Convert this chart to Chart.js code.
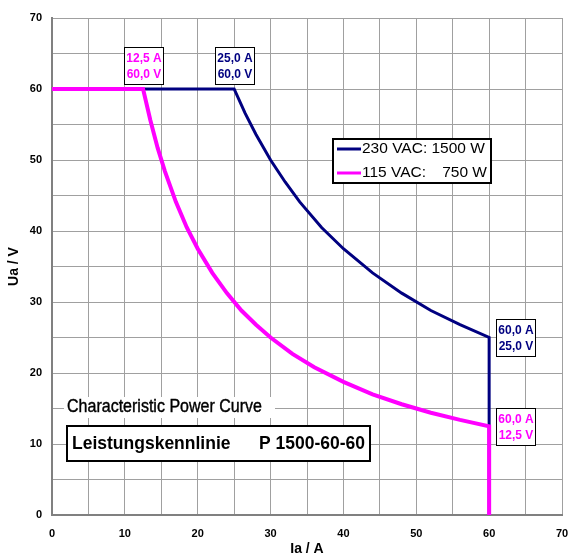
<!DOCTYPE html>
<html>
<head>
<meta charset="utf-8">
<script src="https://cdn.jsdelivr.net/npm/chart.js@4"></script>
<style>
  html, body { margin: 0; padding: 0; background: #fff; }
  #wrap { width: 569px; height: 558px; }
</style>
</head>
<body>
<div id="wrap"><canvas id="powerCurve" width="569" height="558"></canvas></div>
<script>
// ================= Data =================
const current115 = [0, 12.5, 13.5, 14.5, 15.5, 17, 18.5, 20, 22, 24, 26, 28, 30, 33, 36, 40, 44, 48, 52, 56, 60, 60];
const voltage115 = [60, 60, 55.6, 51.7, 48.4, 44.1, 40.5, 37.5, 34.1, 31.25, 28.8, 26.8, 25, 22.7, 20.8, 18.75, 17.0, 15.6, 14.4, 13.4, 12.5, 0];

const current230 = [0, 25, 26.5, 28, 30, 32, 34, 37, 40, 44, 48, 52, 56, 60, 60];
const voltage230 = [60, 60, 56.6, 53.6, 50, 46.9, 44.1, 40.5, 37.5, 34.1, 31.25, 28.8, 26.8, 25, 0];

const seriesLabels = ["230 VAC: 1500 W", "115 VAC:", "750 W"];
const xTicks = [0, 10, 20, 30, 40, 50, 60, 70];
const yTicks = [0, 10, 20, 30, 40, 50, 60, 70];

// corner labels: [current, voltage, text lines]
const markers115 = [[12.5, 60, ["12,5 A", "60,0 V"]], [60, 12.5, ["60,0 A", "12,5 V"]]];
const markers230 = [[25, 60, ["25,0 A", "60,0 V"]], [60, 25, ["60,0 A", "25,0 V"]]];

const NAVY = "#000080";
const PINK = "#ff00ff";
const FONT = "'Liberation Sans', Arial, sans-serif";

function toPoints(xs, ys) {
    return xs.map((x, i) => ({ x: x, y: ys[i] }));
}

// ================= Overlay plugin =================
const overlay = {
    id: "overlay",
    afterDatasetsDraw(chart) {
        const c = chart.ctx;
        const xs = chart.scales.x;
        const ys = chart.scales.y;

        function box(x, y, w, h, lw) {
            c.fillStyle = "#fff";
            c.fillRect(x, y, w, h);
            c.strokeStyle = "#000";
            c.lineWidth = lw;
            c.strokeRect(x, y, w, h);
        }

        function marker(m, color, place) {
            const px = xs.getPixelForValue(m[0]);
            const py = ys.getPixelForValue(m[1]);
            const w = 39, h = 37;
            let bx, by;
            if (place === "above") { bx = px - w / 2; by = py - 5 - h; }
            else { bx = px + 7; by = py - h / 2; }
            bx = Math.round(bx) + 0.5;
            by = Math.round(by) + 0.5;
            box(bx, by, w, h, 1);
            c.fillStyle = color;
            c.font = "bold 12px " + FONT;
            c.textAlign = "center";
            c.textBaseline = "middle";
            c.fillText(m[2][0], bx + w / 2, by + 11);
            c.fillText(m[2][1], bx + w / 2, by + 27);
        }

        c.save();
        marker(markers115[0], PINK, "above");
        marker(markers230[0], NAVY, "above");
        marker(markers230[1], NAVY, "right");
        marker(markers115[1], PINK, "right");

        // legend
        box(333, 139, 158, 44, 2);
        c.lineWidth = 3;
        c.strokeStyle = NAVY;
        c.beginPath(); c.moveTo(337, 149); c.lineTo(361, 149); c.stroke();
        c.strokeStyle = PINK;
        c.beginPath(); c.moveTo(337, 173); c.lineTo(361, 173); c.stroke();
        c.fillStyle = "#000";
        c.font = "15.5px " + FONT;
        c.textAlign = "left";
        c.textBaseline = "middle";
        c.fillText(seriesLabels[0], 362, 149);
        c.fillText(seriesLabels[1], 362, 173);
        c.textAlign = "right";
        c.fillText(seriesLabels[2], 487, 173);

        // titles
        c.fillStyle = "#fff";
        c.fillRect(64, 397, 211, 21);
        c.fillStyle = "#000";
        c.strokeStyle = "#000";
        c.lineWidth = 0.4;
        c.save();
        c.translate(67, 407);
        c.scale(0.89, 1);
        c.font = "18px " + FONT;
        c.textAlign = "left";
        c.fillText("Characteristic Power Curve", 0, 0);
        c.strokeText("Characteristic Power Curve", 0, 0);
        c.restore();

        box(67, 426, 303, 35, 2);
        c.fillStyle = "#000";
        c.font = "bold 17.5px " + FONT;
        c.textAlign = "left";
        c.fillText("Leistungskennlinie", 72, 444);
        c.textAlign = "right";
        c.fillText("P 1500-60-60", 365, 444);
        c.restore();
    }
};

// ================= Chart =================
const ctx = document.getElementById("powerCurve").getContext("2d");

new Chart(ctx, {
    type: "scatter",
    data: {
        datasets: [{
            label: "115 VAC: 750 W",
            data: toPoints(current115, voltage115),
            showLine: true,
            borderColor: PINK,
            borderWidth: 4,
            pointRadius: 0,
            tension: 0,
            order: 0
        }, {
            label: seriesLabels[0],
            data: toPoints(current230, voltage230),
            showLine: true,
            borderColor: NAVY,
            borderWidth: 3,
            pointRadius: 0,
            tension: 0,
            order: 1
        }]
    },
    options: {
        responsive: false,
        animation: false,
        layout: { padding: { top: 18, right: 7, left: 0, bottom: 0 } },
        plugins: {
            legend: { display: false },
            tooltip: { enabled: false }
        },
        scales: {
            x: {
                type: "linear",
                min: 0,
                max: 70,
                afterFit: s => { s.height = 43; s.paddingRight = 0; s.paddingLeft = 0; },
                ticks: {
                    stepSize: 5,
                    maxRotation: 0,
                    padding: 12,
                    color: "#000",
                    font: { family: FONT, size: 11, weight: "bold" },
                    callback: v => xTicks.includes(v) ? String(v) : ""
                },
                grid: { color: "#a0a0a0", lineWidth: 1, drawTicks: false },
                border: { color: "#808080", width: 2 },
                title: {
                    display: true,
                    text: "Ia / A",
                    color: "#000",
                    padding: { top: 5, bottom: 0 },
                    font: { family: FONT, size: 14, weight: "bold" }
                }
            },
            y: {
                type: "linear",
                min: 0,
                max: 70,
                afterFit: s => { s.width = 52; },
                ticks: {
                    stepSize: 5,
                    padding: 10,
                    color: "#000",
                    font: { family: FONT, size: 11, weight: "bold" },
                    callback: v => yTicks.includes(v) ? String(v) : ""
                },
                grid: { color: "#a0a0a0", lineWidth: 1, drawTicks: false },
                border: { color: "#808080", width: 2 },
                title: {
                    display: true,
                    text: "Ua / V",
                    color: "#000",
                    padding: { top: 6, bottom: 2 },
                    font: { family: FONT, size: 14, weight: "bold" }
                }
            }
        }
    },
    plugins: [overlay]
});
</script>
</body>
</html>
